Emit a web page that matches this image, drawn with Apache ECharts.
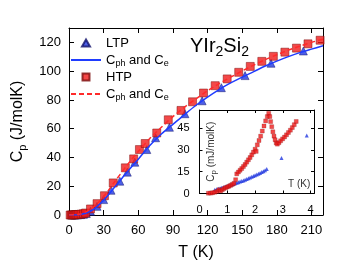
<!DOCTYPE html>
<html><head><meta charset="utf-8">
<script src="https://cdn.jsdelivr.net/npm/echarts@6/dist/echarts.min.js"></script>
<style>html,body{margin:0;padding:0;background:#fff}#c{width:338px;height:266px}</style>
</head><body><div id="c"></div><script>
// ---- main panel data ----
const ltpT = [2.5, 5, 7.5, 10, 12.5, 15, 18.6, 24.3, 30, 36.4, 44, 50.5, 57, 67.4, 75, 87, 100.4, 115.3, 132, 152.5, 175, 203];
const ltpC = [0, 0.05, 0.1, 0.25, 0.5, 1.0, 2.6, 6, 10.7, 17.2, 23.5, 29.8, 36.7, 45.5, 53.7, 61, 70.4, 79.4, 88.5, 96.9, 105.5, 114];
const htpT = [1, 2, 3, 4, 5, 6, 7, 8.5, 10.5, 12.5, 14.4, 18.6, 24.3, 30.7, 38.3, 48.8, 56, 61, 66, 76, 86, 97, 107, 116.5, 126.6, 137, 147, 157, 167, 177, 187, 197, 207, 217.5];
const htpC = [0, 0, 0.05, 0.1, 0.15, 0.2, 0.3, 0.4, 0.6, 0.9, 1.4, 4.2, 7.9, 13.4, 22.3, 32.8, 39, 45.5, 49.7, 57, 66.2, 72.7, 78.7, 84.8, 89.9, 94.6, 99.2, 103.3, 106.8, 110.3, 113.2, 116, 119, 121.5];
const fitT = [0, 10, 20, 30, 40, 50, 60, 70, 80, 90, 100, 110, 120, 130, 140, 150, 160, 170, 180, 190, 200, 210, 220];
const ltpFit = [0, 0.4, 3.3, 10.3, 19.8, 29.5, 38.8, 48.3, 56.3, 63, 69.8, 76.3, 82, 87.2, 91.8, 95.9, 99.7, 103.6, 107, 110.1, 112.9, 115.3, 117.6];
const htpFit = [0, 0.7, 4.8, 12.8, 23.6, 34.3, 44.2, 53.2, 61.0, 68.4, 74.9, 80.8, 86.3, 91.3, 95.8, 100.1, 104.2, 108.0, 111.4, 114.6, 117.4, 120.0, 122.2];
// ---- inset data ----
const inHtpT = [0.32, 0.40, 0.47, 0.55, 0.63, 0.70, 0.76, 0.82, 0.88, 0.94, 1.00, 1.06, 1.12, 1.18, 1.24, 1.30, 1.34, 1.40, 1.46, 1.52, 1.58, 1.64, 1.70, 1.76, 1.82, 1.88, 1.94, 2.00, 2.04, 2.08, 2.14, 2.20, 2.26, 2.32, 2.38, 2.44, 2.49, 2.53, 2.56, 2.60, 2.64, 2.68, 2.72, 2.76, 2.80, 2.86, 2.92, 2.99, 3.06, 3.13, 3.20, 3.27, 3.34, 3.41, 3.48];
const inHtpC = [0.2, 0.3, 0.5, 0.9, 1.5, 2.6, 1.8, 2.6, 3.4, 4.0, 4.5, 5.0, 5.6, 6.3, 7.0, 9.5, 13.5, 14.8, 16.0, 17.2, 18.6, 20.0, 21.6, 23.2, 24.8, 26.6, 28.5, 30.5, 29.0, 33.5, 36.5, 39.5, 43.0, 46.5, 50.0, 53.0, 55.2, 53.0, 49.5, 46.0, 42.5, 39.5, 37.0, 34.8, 34.0, 35.0, 36.3, 37.6, 38.9, 40.4, 42.0, 43.6, 45.4, 47.4, 49.6];
const inLtpT = [0.55, 0.62, 0.68, 0.74, 0.80, 0.86, 0.92, 0.98, 1.04, 1.10, 1.16, 1.22, 1.28, 1.34, 1.40, 1.46, 1.52, 1.58, 1.64, 1.70, 1.76, 1.82, 1.88, 1.94, 2.00, 2.06, 2.12, 2.18, 2.24, 2.30, 2.36, 2.42, 2.95, 3.86];
const inLtpC = [2.5, 3.0, 3.3, 3.6, 4.0, 4.3, 4.6, 5.0, 5.4, 5.8, 6.2, 6.6, 7.0, 7.4, 7.8, 8.2, 8.6, 9.0, 9.5, 10.0, 10.5, 11.0, 11.5, 12.0, 12.5, 13.0, 13.6, 14.2, 14.8, 15.4, 16.0, 16.8, 24.5, 40];
// ---- ticks ----
const mainXTicks = [0, 30, 60, 90, 120, 150, 180, 210];
const mainYTicks = [0, 20, 40, 60, 80, 100, 120];
const inXTicks = [0, 1, 2, 3, 4];
const inYTicks = [0, 15, 30, 45];

const zip = (a, b) => a.map((v, i) => [v, b[i]]);
const FONT = 'Liberation Sans, Arial, sans-serif';
const RED = '#f01c1c', REDB = '#7a0a0a', BLUE = '#2238e0', BLUEB = '#10106a';
const LBLUE = '#1f3cff', LRED = '#ff2a2a';
// legend icons: small centred symbol inside the 30x8 legend box
const ICON_TRI = 'path://M0,0M30,8M11,7.5L15,0.5L19,7.5Z';
const ICON_SQ = 'path://M0,0M30,8M11.5,0.5L18.5,0.5L18.5,7.5L11.5,7.5Z';

function ax(o) {
  return Object.assign({
    type: 'value', splitLine: { show: false },
    axisLine: { show: true, onZero: false, lineStyle: { color: '#000', width: 1 } },
  }, o);
}
const mainTick = (vals) => ({ show: true, inside: true, length: 5, customValues: vals, lineStyle: { color: '#000' } });
const inTick = (vals) => ({ show: true, inside: true, length: 3, customValues: vals, lineStyle: { color: '#000' } });

const chart = echarts.init(document.getElementById('c'), null, { renderer: 'canvas' });
chart.setOption({
  animation: false,
  backgroundColor: '#fff',
  textStyle: { fontFamily: FONT },
  title: {
    text: 'YIr{s|2}Si{s|2}', left: 190, top: 34, padding: 0,
    textStyle: { fontFamily: FONT, fontSize: 20, fontWeight: 'normal', color: '#000', lineHeight: 25,
      rich: { s: { fontFamily: FONT, fontSize: 14, lineHeight: 8, verticalAlign: 'bottom', color: '#000' } } }
  },
  legend: {
    orient: 'vertical', left: 70, top: 35, padding: 0, itemGap: 1, itemWidth: 30, itemHeight: 8,
    data: [
      { name: 'LTP', icon: ICON_TRI },
      { name: 'LTP fit', itemStyle: { opacity: 0 } },
      { name: 'HTP', icon: ICON_SQ },
      { name: 'HTP fit', itemStyle: { opacity: 0 } }
    ],
    formatter: (n) => (n === 'LTP' || n === 'HTP') ? n : 'C{s|ph} and C{s|e}',
    textStyle: { fontFamily: FONT, fontSize: 13, color: '#000', lineHeight: 16,
      rich: { s: { fontFamily: FONT, fontSize: 9, lineHeight: 8, verticalAlign: 'bottom', color: '#000' } } }
  },
  grid: [
    { left: 63, top: 28, width: 260, height: 187 },
    { left: 199.5, top: 110, width: 114.5, height: 83.5, show: true, backgroundColor: '#fff', borderWidth: 0 }
  ],
  xAxis: [
    ax({ gridIndex: 0, min: 0, max: 220, position: 'bottom', axisTick: mainTick(mainXTicks),
      axisLabel: { customValues: mainXTicks, fontSize: 13, color: '#000', margin: 9, fontFamily: FONT },
      name: 'T (K)', nameLocation: 'middle', nameGap: 30,
      nameTextStyle: { fontFamily: FONT, fontSize: 16, color: '#000' } }),
    ax({ gridIndex: 0, min: 0, max: 220, position: 'top', axisTick: mainTick(mainXTicks), axisLabel: { show: false } }),
    ax({ gridIndex: 1, min: 0, max: 4.12, position: 'bottom', axisTick: inTick(inXTicks),
      axisLabel: { customValues: inXTicks, fontSize: 11, color: '#000', margin: 11, fontFamily: FONT } }),
    ax({ gridIndex: 1, min: 0, max: 4.12, position: 'top', axisTick: inTick(inXTicks), axisLabel: { show: false } })
  ],
  yAxis: [
    ax({ gridIndex: 0, min: 0, max: 130, position: 'left', axisTick: mainTick(mainYTicks),
      axisLabel: { customValues: mainYTicks, fontSize: 13, color: '#000', margin: 8, fontFamily: FONT },
      name: 'C{s|p} (J/molK)', nameLocation: 'middle', nameGap: 41, nameRotate: 90,
      nameTextStyle: { fontFamily: FONT, fontSize: 16, color: '#000', lineHeight: 20,
        rich: { s: { fontFamily: FONT, fontSize: 11, lineHeight: 8, verticalAlign: 'bottom', color: '#000' } } } }),
    ax({ gridIndex: 0, min: 0, max: 130, position: 'right', axisTick: mainTick(mainYTicks), axisLabel: { show: false } }),
    ax({ gridIndex: 1, min: 0, max: 57.5, position: 'left', axisTick: inTick(inYTicks),
      axisLabel: { customValues: inYTicks, fontSize: 11, color: '#000', margin: 10, fontFamily: FONT },
      name: 'C{s|p} (mJ/molK)', nameLocation: 'middle', nameGap: -18, nameRotate: 90,
      nameTextStyle: { fontFamily: FONT, fontSize: 10, color: '#333', lineHeight: 12,
        rich: { s: { fontFamily: FONT, fontSize: 8, lineHeight: 6, verticalAlign: 'bottom', color: '#333' } } } }),
    ax({ gridIndex: 1, min: 0, max: 57.5, position: 'right', axisTick: inTick(inYTicks), axisLabel: { show: false } })
  ],
  graphic: [
    { type: 'text', left: 288, top: 179, z: 100,
      style: { text: 'T (K)', fontFamily: FONT, fontSize: 10, fill: '#333' } }
  ],
  series: [
    { name: 'LTP', type: 'scatter', xAxisIndex: 0, yAxisIndex: 0, symbol: 'triangle', symbolSize: 8,
      itemStyle: { color: BLUE, borderColor: BLUEB, borderWidth: 0.6 }, data: zip(ltpT, ltpC), z: 2 },
    { name: 'HTP', type: 'scatter', xAxisIndex: 0, yAxisIndex: 0, symbol: 'rect', symbolSize: 8,
      itemStyle: { color: RED, borderColor: REDB, borderWidth: 0.6 }, data: zip(htpT, htpC), z: 2 },
    { name: 'LTP fit', type: 'line', xAxisIndex: 0, yAxisIndex: 0, showSymbol: false, symbol: 'none', smooth: 0.3,
      lineStyle: { color: LBLUE, width: 1.5 }, itemStyle: { color: LBLUE }, data: zip(fitT, ltpFit), z: 3 },
    { name: 'HTP fit', type: 'line', xAxisIndex: 0, yAxisIndex: 0, showSymbol: false, symbol: 'none', smooth: 0.3,
      lineStyle: { color: LRED, width: 1.5, type: [5, 3] }, itemStyle: { color: LRED }, data: zip(fitT, htpFit), z: 3 },
    { name: 'inLTP', type: 'scatter', xAxisIndex: 2, yAxisIndex: 2, symbol: 'triangle', symbolSize: 4,
      itemStyle: { color: BLUE }, data: zip(inLtpT, inLtpC), z: 4 },
    { name: 'inHTP', type: 'scatter', xAxisIndex: 2, yAxisIndex: 2, symbol: 'rect', symbolSize: 4,
      itemStyle: { color: RED, borderColor: REDB, borderWidth: 0.3 }, data: zip(inHtpT, inHtpC), z: 4 }
  ]
});
</script></body></html>
